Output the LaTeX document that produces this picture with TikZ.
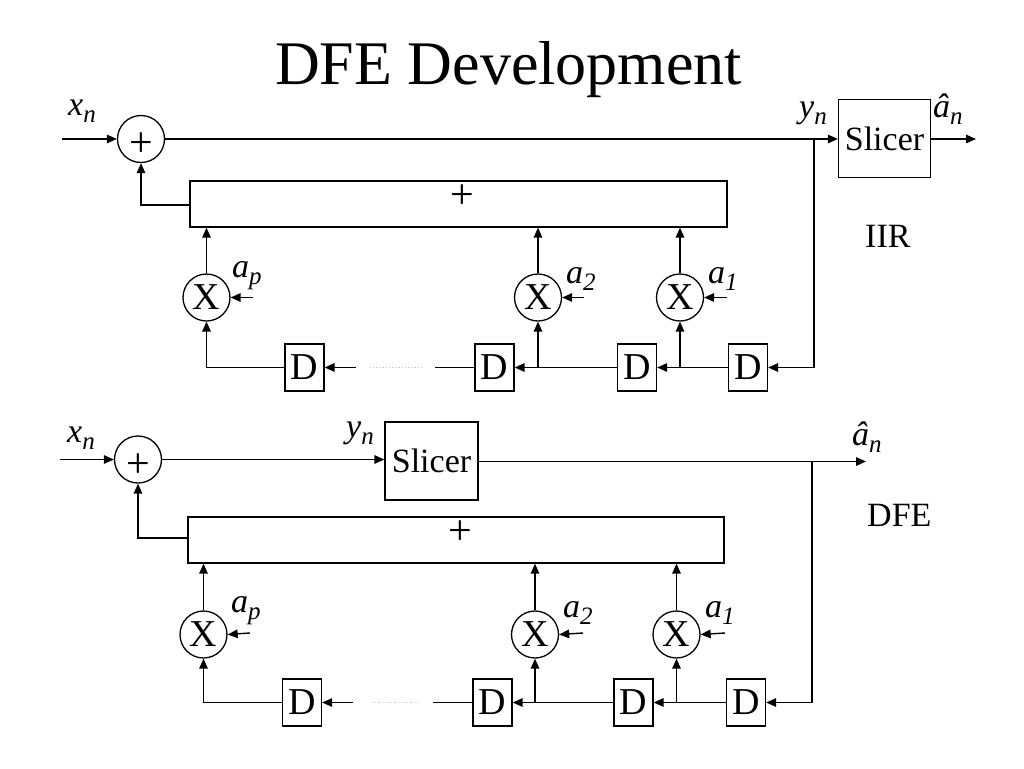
\documentclass[tikz,border=0pt]{standalone}
\usepackage{fontspec}
\setmainfont{Liberation Serif}
\usetikzlibrary{arrows.meta}
\newcommand{\sbs}[1]{\raisebox{-7pt}{\fontsize{25}{25}\selectfont\itshape #1}}
\begin{document}
\begin{tikzpicture}[x=1pt,y=-1pt,
  every node/.style={font=\fontsize{34}{34}\selectfont, inner sep=0pt},
  wire/.style={line width=1.4pt},
  arr/.style={wire, -{Triangle[length=10pt,width=8.5pt]}},
  dots/.style={line width=1.2pt, gray!45, dotted},
  adder/.style={circle, draw, line width=1.3pt, minimum size=47pt},
  mult/.style={circle, draw, line width=1.3pt, minimum size=47pt, font=\fontsize{38}{38}\selectfont},
  dbox/.style={rectangle, draw, line width=1.3pt, minimum width=39pt, minimum height=47pt, font=\fontsize{38}{38}\selectfont},
  slicerbox/.style={rectangle, draw, line width=1.3pt, minimum width=92pt, minimum height=78pt},
  sumbox/.style={rectangle, draw, line width=1.3pt, minimum height=46pt},
  plus/.style={font=\fontsize{42}{42}\selectfont},
  lbl/.style={anchor=base west}]
\fill[white] (0,0) rectangle (1024,768);
\useasboundingbox (0,0) rectangle (1024,768);

% title
\node[lbl, font=\fontsize{62}{62}\selectfont] (title) at (275,84) {DFE Development};

%%%%%%%%%%%%%%%% TOP (IIR) %%%%%%%%%%%%%%%%
\node[adder, label={[plus, yshift=-6pt]center:+}] (add1) at (141,139) {};
\node[slicerbox] (sl1) at (884.5,138.5) {Slicer};
\node[sumbox, minimum width=537pt, label={[plus, xshift=4pt, yshift=7pt]center:+}] (sum1) at (458.5,204) {};
\node[mult] (Xp1) at (206.5,297.5) {X};
\node[mult] (X21) at (538,297.5) {X};
\node[mult] (X11) at (680,297.5) {X};
\node[dbox] (D11) at (304.5,367.5) {D};
\node[dbox] (D21) at (494.5,367.5) {D};
\node[dbox] (D31) at (637,367.5) {D};
\node[dbox] (D41) at (748,367.5) {D};

\coordinate (in1) at (62,139);
\coordinate (out1) at (976,139);
\coordinate (b1) at (814,139);
\coordinate (cp1) at (253,297.5);
\coordinate (c21) at (584,297.5);
\coordinate (c11) at (727,297.5);
\coordinate (gA1) at (435,367.5);
\coordinate (gB1) at (422,367.5);
\coordinate (gC1) at (370,367.5);
\coordinate (gD1) at (356,367.5);

\draw[arr] (in1) -- (add1.west);
\draw[arr] (add1.east) -- (add1.east -| sl1.west);
\draw[arr] (sl1.east |- out1) -- (out1);
\draw[arr] (b1) |- (D41.east);
\draw[arr] (D41.west) -- (D31.east);
\draw[arr] (D31.west) -- (D21.east);
\draw[wire] (D21.west) -- (gA1);
\draw[dots] (gB1) -- (gC1);
\draw[arr] (gD1) -- (D11.east);
\draw[arr] (D11.west) -| (Xp1.south);
\draw[arr] (X21 |- D21) -- (X21.south);
\draw[arr] (X11 |- D31) -- (X11.south);
\draw[arr] (Xp1.north) -- (Xp1 |- sum1.south);
\draw[arr] (X21.north) -- (X21 |- sum1.south);
\draw[arr] (X11.north) -- (X11 |- sum1.south);
\draw[arr] (cp1) -- (Xp1.east);
\draw[arr] (c21) -- (X21.east);
\draw[arr] (c11) -- (X11.east);
\draw[arr] ([yshift=-1pt]sum1.west) -| (add1.south);

\node[lbl] (xn1) at (68,115) {\textit{x}\sbs{n}};
\node[lbl] (yn1) at (799,117) {\textit{y}\sbs{n}};
\node[lbl] (an1) at (933,117) {\textit{â}\sbs{n}};
\node[lbl] (ap1) at (232,277) {\textit{a}\sbs{p}};
\node[lbl] (a21) at (566,283) {\textit{a}\sbs{2}};
\node[lbl] (a11) at (708,283) {\textit{a}\sbs{1}};
\node[lbl] (iir) at (865,247) {IIR};

%%%%%%%%%%%%%%%% BOTTOM (DFE) %%%%%%%%%%%%%%%%
\node[adder, label={[plus, yshift=-6pt]center:+}] (add2) at (138,459.5) {};
\node[slicerbox, minimum width=93pt] (sl2) at (431.5,461) {Slicer};
\node[sumbox, minimum width=536pt, label={[plus, xshift=4pt, yshift=7pt]center:+}] (sum2) at (456,540) {};
\node[mult] (Xp2) at (203.5,634.5) {X};
\node[mult] (X22) at (535,634.5) {X};
\node[mult] (X12) at (676.5,634.5) {X};
\node[dbox] (D12) at (302,702.5) {D};
\node[dbox] (D22) at (492.5,702.5) {D};
\node[dbox] (D32) at (633.5,702.5) {D};
\node[dbox] (D42) at (746,702.5) {D};

\coordinate (in2) at (60,459.5);
\coordinate (out2) at (866,461.5);
\coordinate (b2) at (812,461.5);
\coordinate (cp2) at (250,633);
\coordinate (c22) at (583,633);
\coordinate (c12) at (725,633);
\coordinate (gA2) at (433,702.5);
\coordinate (gB2) at (418,702.5);
\coordinate (gC2) at (370,702.5);
\coordinate (gD2) at (353,702.5);

\draw[arr] (in2) -- (add2.west);
\draw[arr] (add2.east) -- (add2.east -| sl2.west);
\draw[arr] (sl2.east |- out2) -- (out2);
\draw[arr] (b2) |- (D42.east);
\draw[arr] (D42.west) -- (D32.east);
\draw[arr] (D32.west) -- (D22.east);
\draw[wire] (D22.west) -- (gA2);
\draw[dots] (gB2) -- (gC2);
\draw[arr] (gD2) -- (D12.east);
\draw[arr] (D12.west) -| (Xp2.south);
\draw[arr] (X22 |- D22) -- (X22.south);
\draw[arr] (X12 |- D32) -- (X12.south);
\draw[arr] (Xp2.north) -- (Xp2 |- sum2.south);
\draw[arr] (X22.north) -- (X22 |- sum2.south);
\draw[arr] (X12.north) -- (X12 |- sum2.south);
\draw[arr] (cp2) -- (Xp2.east);
\draw[arr] (c22) -- (X22.east);
\draw[arr] (c12) -- (X12.east);
\draw[arr] ([yshift=2pt]sum2.west) -| (add2.south);

\node[lbl] (xn2) at (67,442) {\textit{x}\sbs{n}};
\node[lbl] (yn2) at (346,437) {\textit{y}\sbs{n}};
\node[lbl] (an2) at (852,445) {\textit{â}\sbs{n}};
\node[lbl] (ap2) at (231,612) {\textit{a}\sbs{p}};
\node[lbl] (a22) at (563,617) {\textit{a}\sbs{2}};
\node[lbl] (a12) at (705,617) {\textit{a}\sbs{1}};
\node[lbl] (dfe) at (867,526) {DFE};
\end{tikzpicture}
\end{document}
